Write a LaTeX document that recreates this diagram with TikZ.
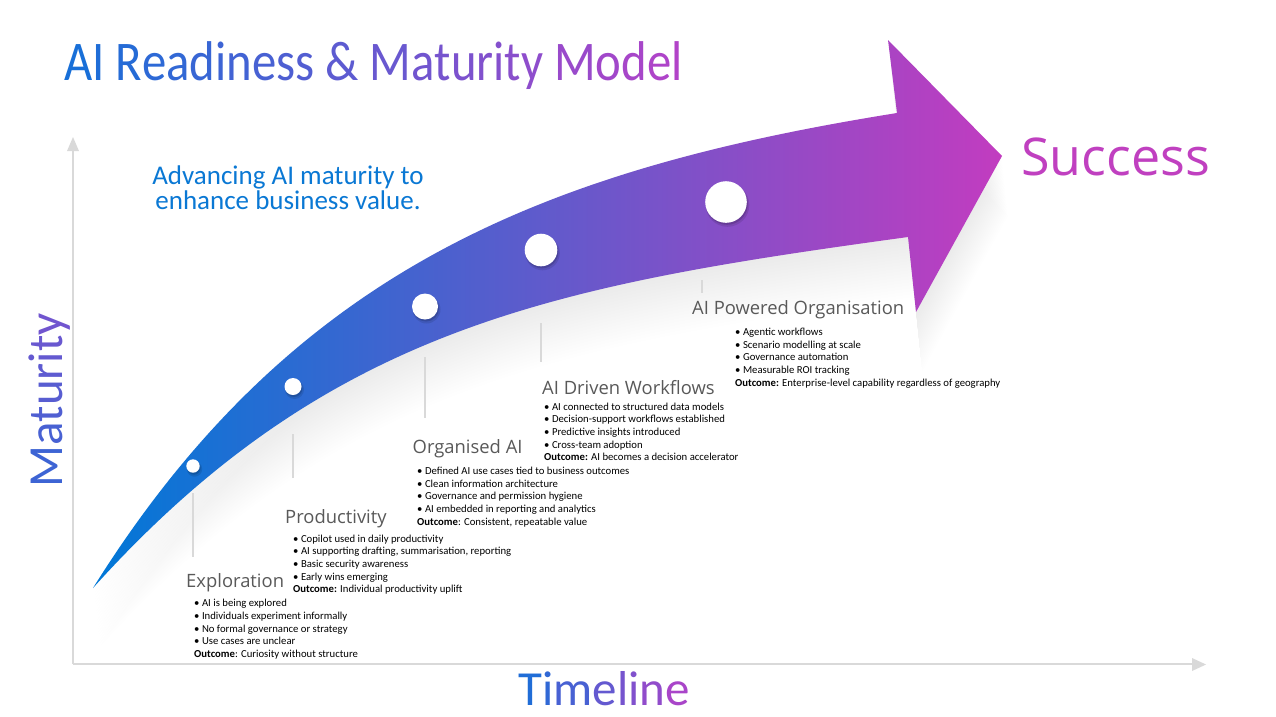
\documentclass[tikz,border=0pt]{standalone}
\usepackage{fontspec}
\setmainfont{Carlito}
\newfontfamily\osans{Open Sans}
\usepackage{graphicx}
\definecolor{gA}{RGB}{21,112,216}
\definecolor{gB}{RGB}{180,66,200}
\definecolor{bandL}{RGB}{0,120,215}
\definecolor{bandR}{RGB}{194,60,192}
\definecolor{axisgray}{RGB}{217,217,217}
\definecolor{stagegray}{RGB}{89,89,89}
\definecolor{advblue}{RGB}{10,120,212}
\definecolor{succ}{RGB}{192,64,192}
\newcommand\gc[2]{\textcolor{gB!#1!gA}{#2}}
\newcommand\arrowpath{(93,588) .. controls (293,268) and (547,169) .. (897,113) -- (888,40) -- (1002,156) -- (916,312) -- (908,237) .. controls (558,285) and (330,325) .. (93,588) -- cycle}
\newcommand\bl{\textbullet\hspace{2.5pt}}
\tikzset{
  axisline/.style={draw=axisgray, line width=1.5pt},
  axistip/.style={fill=axisgray},
  guide/.style={draw=axisgray, line width=1.5pt},
  stagetitle/.style={anchor=base west, inner sep=0, text=stagegray, font=\osans\fontsize{18.4}{22}\selectfont},
  blist/.style={anchor=north west, inner sep=0, align=left, text=black, font=\fontsize{10.7}{12.7}\selectfont},
  dotnode/.style={circle, fill=white, inner sep=0},
}
\begin{document}
\begin{tikzpicture}[x=1pt,y=-1pt]
\useasboundingbox (0,0) rectangle (1276,716);
\fill[white] (0,0) rectangle (1276,716);

% soft shadow under the arrow
\foreach \d in {3,6,...,60} {
  \fill[black, opacity=0.005, shift={(0.1*\d,\d)}] \arrowpath;
}
% the arrow
\shade[left color=bandL, right color=bandR] \arrowpath;

% axes
\coordinate (origin) at (73,664);
\coordinate (ytop) at (73,150);
\coordinate (xend) at (1193,664);
\draw[axisline] (origin) -- (ytop);
\draw[axisline] (origin) -- (xend);
\fill[axistip] (67,151) -- (73,137) -- (79,151) -- cycle;
\fill[axistip] (1192,658) -- (1206,664.5) -- (1192,671) -- cycle;

% guide lines
\foreach \n/\x/\ya/\yb in {1/193/493/557, 2/293/434/478, 3/425/357/418, 4/541/323/362, 5/702/280/293} {
  \coordinate (g\n a) at (\x,\ya);
  \coordinate (g\n b) at (\x,\yb);
  \draw[guide] (g\n a) -- (g\n b);
}

% dots
\foreach \n/\x/\y/\r in {1/193/466/6.7, 2/293/386.5/8.5, 3/425/306.5/13, 4/541/250/16.3, 5/726/202/20.8} {
  \fill[black, opacity=0.10] (\x+1.5,\y+3) circle[radius=\r pt+1pt];
  \fill[black, opacity=0.15] (\x+1,\y+2) circle[radius=\r pt];
  \node[dotnode, minimum size={2*\r*1pt}] (dot\n) at (\x,\y) {};
}

% title
\node[anchor=base west, inner sep=0] (title) at (64,80) {\scalebox{0.87}[1]{\fontsize{56}{60}\selectfont
\gc{2}{A}\gc{6}{I} \gc{10}{R}\gc{15}{e}\gc{18}{a}\gc{22}{d}\gc{25}{i}\gc{28}{n}\gc{32}{e}\gc{36}{s}\gc{39}{s} \gc{45}{\&} \gc{53}{M}\gc{58}{a}\gc{61}{t}\gc{65}{u}\gc{68}{r}\gc{70}{i}\gc{73}{t}\gc{76}{y} \gc{83}{M}\gc{88}{o}\gc{92}{d}\gc{96}{e}\gc{99}{l}}};

% subtitle
\node[anchor=north, inner sep=0, align=center, text=advblue, font=\fontsize{27}{25.3}\selectfont] (sub) at (288,162) {\rule{0pt}{22pt}Advancing AI maturity to\\enhance business value.};

% success
\node[anchor=base west, inner sep=0, text=succ, font=\osans\fontsize{52}{60}\selectfont] (success) at (1021,175) {Success};

% axis labels
\node[rotate=90, anchor=base, inner sep=0, font=\fontsize{49}{55}\selectfont] (maturity) at (62,400.5) {\gc{25}{M}\gc{32}{a}\gc{37}{t}\gc{42}{u}\gc{46}{r}\gc{50}{i}\gc{53}{t}\gc{58}{y}};
\node[anchor=base, inner sep=0, font=\fontsize{49}{55}\selectfont] (timeline) at (604,705) {\gc{7}{T}\gc{17}{i}\gc{32}{m}\gc{50}{e}\gc{61}{l}\gc{68}{i}\gc{78}{n}\gc{93}{e}};

% stage titles
\node[stagetitle] (s1) at (186,587) {Exploration};
\node[stagetitle] (s2) at (285,523) {Productivity};
\node[stagetitle] (s3) at (412.5,453) {Organised AI};
\node[stagetitle] (s4) at (542,394) {AI Driven Workflows};
\node[stagetitle] (s5) at (692,314) {AI Powered Organisation};

% bullet lists
\node[blist] (l1) at (194,597.5) {\rule{0pt}{9pt}\bl AI is being explored\\\bl Individuals experiment informally\\\bl No formal governance or strategy\\\bl Use cases are unclear\\\textbf{Outcome}: Curiosity without structure};
\node[blist] (l2) at (293,532.8) {\rule{0pt}{9pt}\bl Copilot used in daily productivity\\\bl AI supporting drafting, summarisation, reporting\\\bl Basic security awareness\\\bl Early wins emerging\\\textbf{Outcome:} Individual productivity uplift};
\node[blist] (l3) at (417,465.2) {\rule{0pt}{9pt}\bl Defined AI use cases tied to business outcomes\\\bl Clean information architecture\\\bl Governance and permission hygiene\\\bl AI embedded in reporting and analytics\\\textbf{Outcome}: Consistent, repeatable value};
\node[blist] (l4) at (544,400.8) {\rule{0pt}{9pt}\bl AI connected to structured data models\\\bl Decision-support workflows established\\\bl Predictive insights introduced\\\bl Cross-team adoption\\\textbf{Outcome:} AI becomes a decision accelerator};
\node[blist] (l5) at (735,326.2) {\rule{0pt}{9pt}\bl Agentic workflows\\\bl Scenario modelling at scale\\\bl Governance automation\\\bl Measurable ROI tracking\\\textbf{Outcome:} Enterprise-level capability regardless of geography};
\end{tikzpicture}
\end{document}
